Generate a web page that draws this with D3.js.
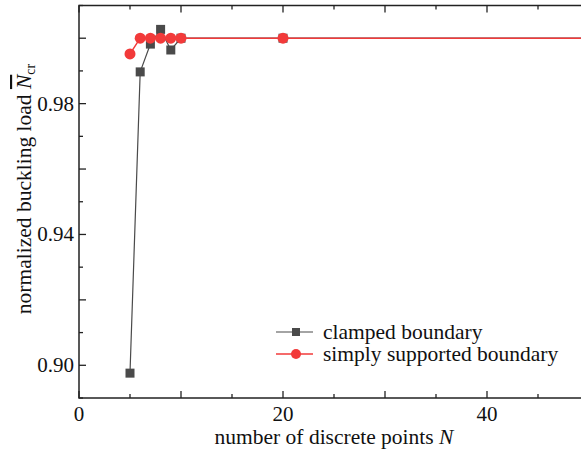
<!DOCTYPE html>
<html>
<head>
<meta charset="utf-8">
<script src="https://cdn.jsdelivr.net/npm/d3@7"></script>
<style>
  body { margin: 0; background: #fff; }
  svg { display: block; overflow: hidden; }
  text { font-family: "Liberation Serif", "Times New Roman", serif; fill: #111; }
</style>
</head>
<body>
<svg id="chart" width="581" height="457"></svg>
<script>
// data
var clampedN = [5, 6, 7, 8, 9, 10, 20, 50];
var clampedLoad = [0.8976, 0.9897, 0.9982, 1.0027, 0.9964, 1.0, 1.0, 1.0];
var simplyN = [5, 6, 7, 8, 9, 10, 20, 50];
var simplyLoad = [0.9952, 1.0, 1.0, 1.0, 1.0, 1.0, 1.0, 1.0];
var markerN = [5, 6, 7, 8, 9, 10, 20];
var xTicks = [0, 10, 20, 30, 40, 50];
var xLabels = [0, 20, 40];
var yTicks = [0.90, 0.92, 0.94, 0.96, 0.98, 1.00];
var yLabels = [0.90, 0.94, 0.98];

var svg = d3.select("#chart");
var mLeft = 79, mTop = 5.5, mRight = 589, mBottom = 398;

var x = d3.scaleLinear().domain([0, 50]).range([mLeft, mRight]);
var y = d3.scaleLinear().domain([0.89, 1.01]).range([mBottom, mTop]);

var black = "#4a4a4a", red = "#f23a3a";

// frame
svg.append("rect")
  .attr("x", mLeft).attr("y", mTop)
  .attr("width", mRight - mLeft).attr("height", mBottom - mTop)
  .attr("fill", "none").attr("stroke", "#222").attr("stroke-width", 1.5);

// ticks (inward)
var xMinor = d3.range(5, 50, 10);
var yMinor = d3.range(0.89, 1.011, 0.01).filter(function (v) {
  return !yTicks.some(function (t) { return Math.abs(t - v) < 1e-6; });
});

function tickX(vals, len) {
  vals.forEach(function (v) {
    svg.append("line").attr("x1", x(v)).attr("x2", x(v))
      .attr("y1", mBottom).attr("y2", mBottom - len).attr("stroke", "#222").attr("stroke-width", 1.3);
    svg.append("line").attr("x1", x(v)).attr("x2", x(v))
      .attr("y1", mTop).attr("y2", mTop + len).attr("stroke", "#222").attr("stroke-width", 1.3);
  });
}
function tickY(vals, len) {
  vals.forEach(function (v) {
    svg.append("line").attr("x1", mLeft).attr("x2", mLeft + len)
      .attr("y1", y(v)).attr("y2", y(v)).attr("stroke", "#222").attr("stroke-width", 1.3);
  });
}
tickX(xTicks, 7);
tickX(xMinor, 4);
tickY(yTicks, 7);
tickY(yMinor, 4);

svg.selectAll(".xl").data(xLabels).enter().append("text")
  .attr("x", function (d) { return x(d); }).attr("y", 421)
  .attr("text-anchor", "middle").attr("font-size", 21)
  .text(function (d) { return d; });

svg.selectAll(".yl").data(yLabels).enter().append("text")
  .attr("x", 74).attr("y", function (d) { return y(d) + 7; })
  .attr("text-anchor", "end").attr("font-size", 21)
  .text(function (d) { return d.toFixed(2); });

// axis titles
var xt = svg.append("text").attr("x", 334).attr("y", 444)
  .attr("text-anchor", "middle").attr("font-size", 21.5);
xt.append("tspan").text("number of discrete points ");
xt.append("tspan").attr("font-style", "italic").text("N");

var yt = svg.append("text")
  .attr("transform", "translate(31,189) rotate(-90)")
  .attr("text-anchor", "middle").attr("font-size", 21.5);
yt.append("tspan").text("normalized buckling load ");
yt.append("tspan").attr("font-style", "italic")
  .style("text-decoration", "overline").text("N");
yt.append("tspan").attr("font-size", 14).attr("dy", 4).text("cr");

// series
var line = d3.line()
  .x(function (d) { return x(d[0]); })
  .y(function (d) { return y(d[1]); });

var clamped = d3.zip(clampedN, clampedLoad);
var simply = d3.zip(simplyN, simplyLoad);

svg.append("path").datum(clamped).attr("d", line)
  .attr("fill", "none").attr("stroke", black).attr("stroke-width", 1.2);

svg.selectAll(".sq").data(clamped.filter(function (d) { return markerN.indexOf(d[0]) >= 0; }))
  .enter().append("rect")
  .attr("x", function (d) { return x(d[0]) - 4.5; })
  .attr("y", function (d) { return y(d[1]) - 4.5; })
  .attr("width", 9).attr("height", 9).attr("fill", black);

svg.append("path").datum(simply).attr("d", line)
  .attr("fill", "none").attr("stroke", red).attr("stroke-width", 1.5);

svg.selectAll(".ci").data(simply.filter(function (d) { return markerN.indexOf(d[0]) >= 0; }))
  .enter().append("circle")
  .attr("cx", function (d) { return x(d[0]); })
  .attr("cy", function (d) { return y(d[1]); })
  .attr("r", 5.5).attr("fill", red);

// legend
var lg = svg.append("g");
lg.append("line").attr("x1", 276).attr("x2", 313).attr("y1", 332).attr("y2", 332)
  .attr("stroke", black).attr("stroke-width", 1.2);
lg.append("rect").attr("x", 292).attr("y", 328).attr("width", 8).attr("height", 8).attr("fill", black);
lg.append("text").attr("x", 323).attr("y", 339).attr("font-size", 21.5).text("clamped boundary");
lg.append("line").attr("x1", 276).attr("x2", 313).attr("y1", 354).attr("y2", 354)
  .attr("stroke", red).attr("stroke-width", 1.5);
lg.append("circle").attr("cx", 296).attr("cy", 354).attr("r", 5).attr("fill", red);
lg.append("text").attr("x", 323).attr("y", 361).attr("font-size", 21.5).text("simply supported boundary");
</script>
</body>
</html>
